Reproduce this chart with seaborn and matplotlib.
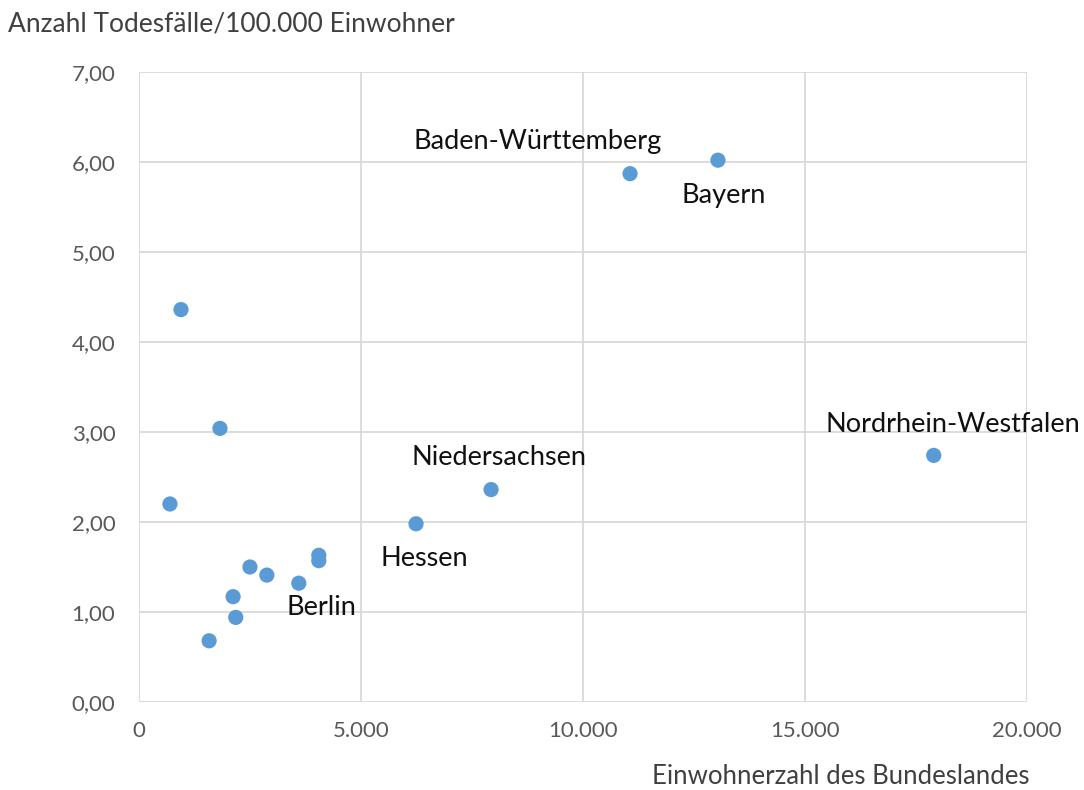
import pandas as pd
import matplotlib
matplotlib.use('Agg')
import matplotlib.pyplot as plt
from matplotlib.ticker import FuncFormatter, MultipleLocator
import seaborn as sns

# Daten
einwohner = [946, 1824, 698, 2500, 2880, 2120, 2180, 1580,
             3600, 4050, 4050, 6240, 7930, 11060, 13040, 17900]
todesfaelle = [4.36, 3.04, 2.20, 1.50, 1.41, 1.17, 0.94, 0.68,
               1.32, 1.63, 1.57, 1.98, 2.36, 5.87, 6.02, 2.74]
beschriftung = ['', '', '', '', '', '', '', '',
                'Berlin', '', '', 'Hessen', 'Niedersachsen',
                'Baden-Württemberg', 'Bayern', 'Nordrhein-Westfalen']
# Versatz der Beschriftungen in Pixeln
versatz = {'Berlin': (23, -24), 'Hessen': (8, -35), 'Niedersachsen': (8, 32),
           'Baden-Württemberg': (-92, 32), 'Bayern': (6, -35),
           'Nordrhein-Westfalen': (19, 31)}

df = pd.DataFrame({'Einwohner': einwohner, 'Todesfaelle': todesfaelle,
                   'Land': beschriftung})

sns.set_style('white')
plt.rcParams['font.family'] = ['Lato', 'DejaVu Sans']

fig = plt.figure(figsize=(10.84, 7.9), dpi=100)
ax = fig.add_axes([0.1282, 0.1114, 0.8192, 0.7975])

sns.scatterplot(data=df, x='Einwohner', y='Todesfaelle', ax=ax,
                color='#5B9BD5', s=120, edgecolor='none', zorder=3)

ax.set_xlim(0, 20000)
ax.set_ylim(0, 7)
ax.xaxis.set_major_locator(MultipleLocator(5000))
ax.yaxis.set_major_locator(MultipleLocator(1))
ax.xaxis.set_major_formatter(FuncFormatter(lambda v, p: f'{v:,.0f}'.replace(',', '.')))
ax.yaxis.set_major_formatter(FuncFormatter(lambda v, p: f'{v:.2f}'.replace('.', ',')))
ax.grid(True, color='#D9D9D9', linewidth=1.3)
ax.set_axisbelow(True)
for sp in ax.spines.values():
    sp.set_visible(False)
ax.tick_params(axis='both', length=0, labelsize=16, labelcolor='#595959')
ax.tick_params(axis='x', pad=14)
ax.tick_params(axis='y', pad=17)
ax.set_xlabel('')
ax.set_ylabel('')

for _, r in df.iterrows():
    if r['Land']:
        dx, dy = versatz[r['Land']]
        ax.annotate(r['Land'], (r['Einwohner'], r['Todesfaelle']),
                    xytext=(dx, dy), textcoords='offset pixels',
                    ha='center', va='center', fontsize=19.5, color='#111111')

fig.text(8 / 1084, 1 - 24 / 790, 'Anzahl Todesfälle/100.000 Einwohner',
         ha='left', va='center', fontsize=19, color='#404040')
fig.text(1030 / 1084, 1 - 777 / 790, 'Einwohnerzahl des Bundeslandes',
         ha='right', va='center', fontsize=18.5, color='#404040')

fig.savefig('out.png', dpi=100)
